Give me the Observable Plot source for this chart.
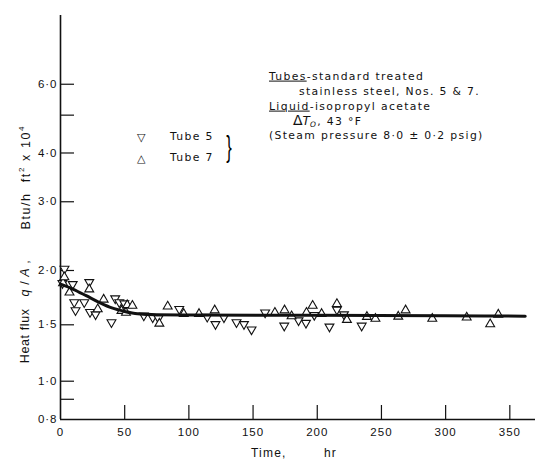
<!DOCTYPE html>
<html><head><meta charset="utf-8">
<script src="https://cdn.jsdelivr.net/npm/d3@7"></script>
<script src="https://cdn.jsdelivr.net/npm/@observablehq/plot@0.6"></script>
<style>
body{margin:0;background:#fff;}
#wrap{position:relative;width:535px;height:461px;overflow:hidden;color:#111;}
#wrap svg text{letter-spacing:1px;}
.t{position:absolute;white-space:pre;font-family:"DejaVu Sans",sans-serif;font-size:10.8px;letter-spacing:1.35px;line-height:1;transform:translateY(-50%);color:#111;}
</style></head><body><div id="wrap"></div>
<script>
// Tube 5 (inverted triangles)
const tube5Time = [1.5, 3.1, 9.5, 10.7, 11.7, 18.5, 22.4, 23.0, 27.3, 39.7, 42.6, 45.8, 49.7, 64.9, 71.8, 76.3, 92.5, 114.3, 120.7, 127.3, 137.1, 142.9, 148.8, 159.4, 174.3, 185.4, 191.2, 197.7, 209.5, 215.3, 220.8, 234.6];
const tube5Flux = [1.87, 2.02, 1.86, 1.69, 1.62, 1.69, 1.88, 1.605, 1.585, 1.52, 1.725, 1.69, 1.68, 1.575, 1.56, 1.553, 1.63, 1.565, 1.505, 1.56, 1.52, 1.505, 1.45, 1.60, 1.49, 1.535, 1.515, 1.58, 1.48, 1.625, 1.585, 1.49];
// Tube 7 (upright triangles)
const tube7Time = [2.0, 3.0, 7.0, 22.4, 29.0, 33.6, 47.5, 51.0, 52.0, 56.0, 77.0, 83.5, 96.0, 107.9, 120.1, 167.0, 174.5, 180.0, 191.6, 196.4, 203.4, 215.3, 223.1, 238.7, 245.3, 263.1, 268.8, 289.6, 316.4, 334.7, 341.0];
const tube7Flux = [1.87, 1.93, 1.78, 1.81, 1.63, 1.715, 1.615, 1.60, 1.665, 1.66, 1.51, 1.653, 1.59, 1.59, 1.62, 1.60, 1.62, 1.57, 1.60, 1.66, 1.59, 1.675, 1.54, 1.565, 1.55, 1.567, 1.62, 1.55, 1.56, 1.505, 1.584];
// Faired curve
const curveTime = [0, 10, 20, 30, 40, 50, 60, 75, 100, 200, 300, 362];
const curveFlux = [1.86, 1.81, 1.75, 1.69, 1.64, 1.61, 1.59, 1.582, 1.58, 1.577, 1.573, 1.570];
// Axis ticks
const xTicks = [0, 50, 100, 150, 200, 250, 300, 350];
const yTicks = [0.8, 1.0, 1.5, 2.0, 3.0, 4.0, 6.0];
const yTickLabels = ["0·8", "1·0", "1·5", "2·0", "3·0", "4·0", "6·0"];
const yMinorTicks = [0.9, 5.0];

const tube5 = tube5Time.map((t, i) => ({t, q: tube5Flux[i]}));
const tube7 = tube7Time.map((t, i) => ({t, q: tube7Flux[i]}));
const curve = curveTime.map((t, i) => ({t, q: curveFlux[i]}));

const W = 535, H = 461, mL = 60, mR = 0, mT = 15, mB = 42;
const tickLen = 14;

const plot = Plot.plot({
  width: W, height: H,
  marginLeft: mL, marginRight: mR, marginTop: mT, marginBottom: mB,
  style: {fontFamily: "'Liberation Sans', Arial, sans-serif", fontSize: "11.5px", color: "#111", background: "white"},
  x: {domain: [0, 370]},
  // printed ordinate is a (slightly irregular) logarithmic grid: piecewise log scale
  y: {type: "log", domain: [0.8, 1.0, 1.5, 2.0, 9.0], range: [419, 380.7, 324.3, 270, 15]},
  marks: [
    Plot.ruleX([0], {stroke: "#111", strokeWidth: 1.6}),
    Plot.ruleY([0.8], {stroke: "#111", strokeWidth: 1.6}),
    Plot.tickY(yTicks.filter(d => d > 0.8).concat(yMinorTicks), {y: d => d, stroke: "#111", strokeWidth: 1.2, insetRight: W - mL - mR - tickLen}),
    Plot.tickX(xTicks.filter(d => d > 0), {x: d => d, stroke: "#111", strokeWidth: 1.2, insetTop: (H - mB - mT) - tickLen}),
    Plot.axisX(xTicks, {tickSize: 0, tickPadding: 8, label: null, fontSize: 11.5, tickFormat: d => String(d)}),
    Plot.axisY(yTicks, {tickSize: 0, tickPadding: 3, label: null, fontSize: 11.5, tickFormat: d => yTickLabels[yTicks.indexOf(d)]}),
    Plot.dot(tube5, {x: "t", y: "q", symbol: "triangle", rotate: 180, r: 3.3, fill: "white", stroke: "#111", strokeWidth: 1.1}),
    Plot.dot(tube7, {x: "t", y: "q", symbol: "triangle", r: 3.3, fill: "white", stroke: "#111", strokeWidth: 1.1}),
    Plot.line(curve, {x: "t", y: "q", curve: "monotone-x", stroke: "#111", strokeWidth: 3})
  ]
});

const wrap = document.getElementById("wrap");
wrap.appendChild(plot);

function place(html, left, cy, extra = "") {
  const d = document.createElement("div");
  d.className = "t";
  d.style.left = left + "px";
  d.style.top = cy + "px";
  if (extra) d.style.cssText += extra;
  d.innerHTML = html;
  wrap.appendChild(d);
  return d;
}

// Annotation block
place('<span style="text-decoration:underline">Tubes</span>-standard treated', 269, 77);
place('stainless steel, Nos. 5 &amp; 7.', 299, 92);
place('<span style="text-decoration:underline">Liquid</span>-isopropyl acetate', 269, 107);
place('<span style="font-size:14px;letter-spacing:0;line-height:10px">Δ</span><span style="font-size:12px;font-style:italic;letter-spacing:0;line-height:10px">T</span><span style="font-size:7.5px;font-style:italic;line-height:0;vertical-align:-2px">O</span>, 43 °F', 293, 121, "line-height:10px;");
place('(Steam pressure 8·0 ± 0·2 psig)', 269, 136);

// Legend
place('▽', 137, 137, "font-size:11px;letter-spacing:0");
place('△', 137, 158, "font-size:11px;letter-spacing:0");
place('Tube 5', 170, 137);
place('Tube 7', 170, 158);
place('}', 224, 147, "font-size:30px;letter-spacing:0;color:#000;transform:translateY(-50%) scaleX(0.55);font-family:'Liberation Sans'");

// Axis titles
place('Time,', 251, 453, "font-family:'Liberation Sans';font-size:12px;letter-spacing:1.2px");
place('hr', 324, 453, "font-family:'Liberation Sans';font-size:12px;letter-spacing:1.2px");
const yl = document.createElement("div");
yl.style.cssText = "position:absolute;left:25px;top:244px;transform:translate(-50%,-50%) rotate(-90deg);white-space:pre;font-family:'Liberation Sans',sans-serif;font-size:12.5px;letter-spacing:0.6px;color:#111;display:flex;align-items:baseline;";
yl.innerHTML = '<span>Heat flux</span><span style="margin-left:12px"><i>q</i> / <i>A</i> ,</span><span style="margin-left:30px;letter-spacing:1.6px">Btu/h  ft<sup style="font-size:8px">2</sup> x 10<sup style="font-size:8px">4</sup></span>';
wrap.appendChild(yl);
</script>
</body></html>
